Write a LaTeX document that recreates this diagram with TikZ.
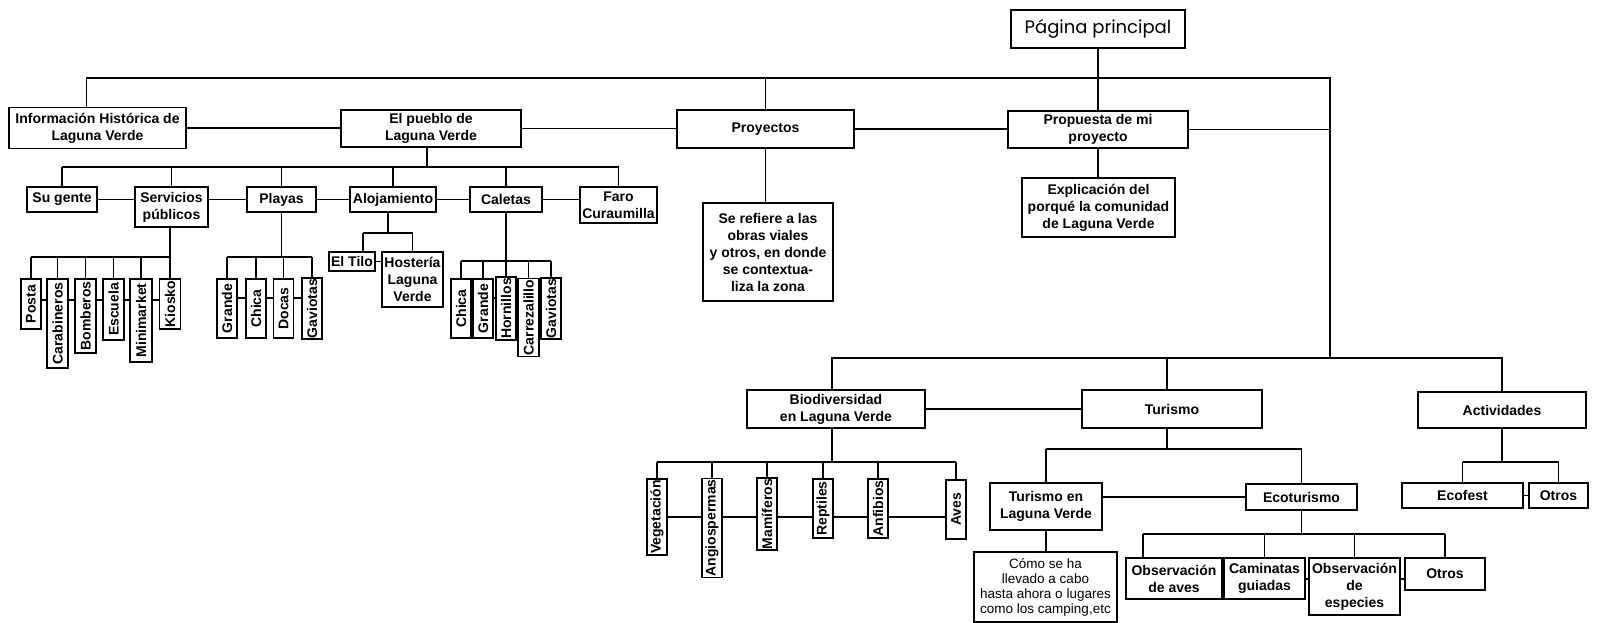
\documentclass[tikz,border=0pt]{standalone}
\usepackage{fontspec}
\setmainfont{Liberation Sans}
\newfontfamily\popfont{Poppins}
\begin{document}
\begin{tikzpicture}[x=1pt,y=-1pt,
  bx/.style={draw, line width=1.4pt, inner sep=1pt, align=center, font=\fontsize{14}{17}\selectfont\bfseries},
  vb/.style={bx, rotate=90, font=\fontsize{14}{15}\selectfont\bfseries},
  rg/.style={bx, font=\fontsize{13.5}{15}\selectfont},
  ln/.style={line width=1.4pt}]
\useasboundingbox (0,0) rectangle (1604,623);

% ---- top level
\node[bx, minimum width=174, minimum height=38, font=\popfont\fontsize{18}{20}\selectfont] (pag) at (1098,29) {Página principal};
\node[bx, minimum width=177, minimum height=41] (info) at (97.5,128) {Información Histórica de\\Laguna Verde};
\node[bx, minimum width=180, minimum height=37] (pueblo) at (431,128.5) {El pueblo de\\Laguna Verde};
\node[bx, minimum width=177, minimum height=38] (proy) at (765.5,129) {Proyectos};
\node[bx, minimum width=180, minimum height=37] (prop) at (1098,129.5) {Propuesta de mi\\proyecto};
\node[bx, minimum width=130, minimum height=98] (seref) at (768,252) {Se refiere a las\\obras viales\\y otros, en donde\\se contextua-\\liza la zona};
\node[bx, minimum width=153, minimum height=59] (expl) at (1098.5,207.5) {Explicación del\\porqué la comunidad\\de Laguna Verde};

% ---- pueblo children
\node[bx, minimum width=70, minimum height=25] (sugente) at (62,199.5) {Su gente};
\node[bx, minimum width=73, minimum height=40] (serv) at (171.5,207) {Servicios\\públicos};
\node[bx, minimum width=69, minimum height=25] (playas) at (281.5,199.5) {Playas};
\node[bx, minimum width=86, minimum height=25] (aloj) at (393,199.5) {Alojamiento};
\node[bx, minimum width=72, minimum height=25] (caletas) at (506,199.5) {Caletas};
\node[bx, minimum width=77, minimum height=36] (faro) at (618.5,205) {Faro\\Curaumilla};

% servicios children
\node[vb, minimum width=50, minimum height=20] (posta) at (31,304) {Posta};
\node[vb, minimum width=89, minimum height=21] (carab) at (57.5,323.5) {Carabineros};
\node[vb, minimum width=74, minimum height=21] (bomb) at (85.5,316) {Bomberos};
\node[vb, minimum width=61, minimum height=21] (escuela) at (113.5,309.5) {Escuela};
\node[vb, minimum width=83, minimum height=22] (minim) at (141,320.5) {Minimarket};
\node[vb, minimum width=50, minimum height=21] (kiosko) at (170,304) {Kiosko};

% playas children
\node[vb, minimum width=59, minimum height=20] (pgrande) at (227,308.5) {Grande};
\node[vb, minimum width=59, minimum height=20] (pchica) at (256,308.5) {Chica};
\node[vb, minimum width=59, minimum height=20] (pdocas) at (283.5,308.5) {Docas};
\node[vb, minimum width=59, minimum height=20] (pgav) at (312,308.5) {Gaviotas};

% alojamiento children
\node[bx, minimum width=46, minimum height=19] (tilo) at (352,261.5) {El Tilo};
\node[bx, minimum width=61, minimum height=55] (host) at (412.5,279.5) {Hostería\\Laguna\\Verde};

% caletas children
\node[vb, minimum width=59, minimum height=20] (cchica) at (461,308.5) {Chica};
\node[vb, minimum width=59, minimum height=20] (cgrande) at (483,308.5) {Grande};
\node[vb, minimum width=59, minimum height=20] (chorn) at (506,308.5) {Hornillos};
\node[vb, minimum width=77, minimum height=21] (ccarr) at (528.5,317.5) {Carrezalillo};
\node[vb, minimum width=59, minimum height=20] (cgav) at (551,308.5) {Gaviotas};

% ---- lower part
\node[bx, minimum width=178, minimum height=38] (biod) at (836,409) {Biodiversidad\\en Laguna Verde};
\node[bx, minimum width=180, minimum height=38] (turismo) at (1172,409) {Turismo};
\node[bx, minimum width=168, minimum height=36] (activ) at (1502,410) {Actividades};

\node[vb, minimum width=76, minimum height=20] (veg) at (657,517) {Vegetación};
\node[vb, minimum width=98, minimum height=20] (angio) at (712,528) {Angiospermas};
\node[vb, minimum width=70, minimum height=20] (mam) at (767,514) {Mamíferos};
\node[vb, minimum width=59, minimum height=20] (rept) at (823,508.5) {Reptiles};
\node[vb, minimum width=59, minimum height=20] (anf) at (878,508.5) {Anfibios};
\node[vb, minimum width=59, minimum height=20] (aves) at (956,509.5) {Aves};

\node[bx, minimum width=112, minimum height=47] (tlv) at (1046,506.5) {Turismo en\\Laguna Verde};
\node[bx, minimum width=111, minimum height=26] (eco) at (1301.5,497) {Ecoturismo};
\node[rg, minimum width=143, minimum height=70] (como) at (1045.5,587) {Cómo se ha\\llevado a cabo\\hasta ahora o lugares\\como los camping,etc};
\node[bx, minimum width=96, minimum height=41] (obsaves) at (1174,578.5) {Observación\\de aves};
\node[bx, minimum width=81, minimum height=41] (camin) at (1264.5,578.5) {Caminatas\\guiadas};
\node[bx, minimum width=91, minimum height=57] (obsesp) at (1354.5,586.5) {Observación\\de\\especies};
\node[bx, minimum width=80, minimum height=32] (otros2) at (1445,574) {Otros};
\node[bx, minimum width=121, minimum height=25] (ecofest) at (1462.5,495.5) {Ecofest};
\node[bx, minimum width=59, minimum height=25] (otros1) at (1558.5,495.5) {Otros};

% ---- helper coordinates
\coordinate (rvT) at (1330,78);
\coordinate (rvB) at (1330,358);
\coordinate (pb1) at (0,167);
\coordinate (sb) at (0,257);
\coordinate (sch) at (0,300);
\coordinate (plb) at (0,257);
\coordinate (plch) at (0,298);
\coordinate (ab) at (0,233);
\coordinate (cb) at (0,261);
\coordinate (cch) at (0,298);
\coordinate (bb) at (0,462);
\coordinate (bch) at (0,517);
\coordinate (tb) at (0,449);
\coordinate (eb) at (0,534);
\coordinate (ech) at (0,579);
\coordinate (acb) at (0,462);

% ---- connectors top
\draw[ln] ([xshift=-11pt]info.north) |- (rvT) -- (rvB);
\draw[ln] (proy.north) -- (proy.north |- rvT);
\draw[ln] (pag.south) -- (prop.north);
\draw[ln] (info.east) -- (info.east -| pueblo.west);
\draw[ln] (pueblo.east) -- (pueblo.east -| proy.west);
\draw[ln] (proy.east) -- (proy.east -| prop.west);
\draw[ln] (prop.east) -- (prop.east -| rvT);
\draw[ln] (proy.south) -- (proy.south |- seref.north);
\draw[ln] (prop.south) -- (prop.south |- expl.north);

% pueblo
\draw[ln] ([xshift=-4pt]pueblo.south) -- ([xshift=-4pt]pueblo.south |- pb1);
\draw[ln] (sugente.north |- pb1) -- (faro.north |- pb1);
\foreach \n in {sugente,serv,playas,aloj,caletas,faro} \draw[ln] (\n.north) -- (\n.north |- pb1);
\draw[ln] (sugente.east) -- (sugente.east -| serv.west);
\draw[ln] (sugente.east -| serv.east) -- (playas.west);
\draw[ln] (playas.east) -- (aloj.west);
\draw[ln] (aloj.east) -- (caletas.west);
\draw[ln] (caletas.east) -- (caletas.east -| faro.west);

% servicios
\draw[ln] (serv.south -| kiosko.east) -- (kiosko.east);
\draw[ln] (posta.east |- sb) -- (kiosko.east |- sb);
\foreach \n in {posta,carab,bomb,escuela,minim} \draw[ln] (\n.east) -- (\n.east |- sb);
\foreach \a/\b in {posta/carab,carab/bomb,bomb/escuela,escuela/minim,minim/kiosko} \draw[ln] (\a.south |- sch) -- (\b.north |- sch);

% playas
\draw[ln] (playas.south) -- (playas.south |- plb);
\draw[ln] (pgrande.east |- plb) -- (pgav.east |- plb);
\foreach \n in {pgrande,pchica,pdocas,pgav} \draw[ln] (\n.east) -- (\n.east |- plb);
\foreach \a/\b in {pgrande/pchica,pchica/pdocas,pdocas/pgav} \draw[ln] (\a.south |- plch) -- (\b.north |- plch);

% alojamiento
\draw[ln] ([xshift=-5pt]aloj.south) -- ([xshift=-5pt]aloj.south |- ab);
\draw[ln] ([xshift=11pt]tilo.north |- ab) -- (host.north |- ab);
\draw[ln] ([xshift=11pt]tilo.north) -- ([xshift=11pt]tilo.north |- ab);
\draw[ln] (host.north) -- (host.north |- ab);
\draw[ln] (tilo.east) -- (tilo.east -| host.west);

% caletas
\draw[ln] (caletas.south) -- (caletas.south |- cb);
\draw[ln] (cchica.east |- cb) -- (cgav.east |- cb);
\foreach \n in {cchica,cgrande,chorn,ccarr,cgav} \draw[ln] (\n.east) -- (\n.east |- cb);
\foreach \a/\b in {cchica/cgrande,cgrande/chorn,chorn/ccarr,ccarr/cgav} \draw[ln] (\a.south |- cch) -- (\b.north |- cch);

% lower bar
\draw[ln] ([xshift=-4pt]biod.north) |- (rvB);
\draw[ln] (rvB) -- (rvB -| activ.north) -- (activ.north);
\draw[ln] ([xshift=-5pt]turismo.north) -- ([xshift=-5pt]turismo.north |- rvB);
\draw[ln] (biod.east) -- (turismo.west);

% biodiversidad
\draw[ln] ([xshift=-4pt]biod.south) -- ([xshift=-4pt]biod.south |- bb);
\draw[ln] (veg.east |- bb) -- (aves.east |- bb);
\foreach \n in {veg,angio,mam,rept,anf,aves} \draw[ln] (\n.east) -- (\n.east |- bb);
\foreach \a/\b in {veg/angio,angio/mam,mam/rept,rept/anf,anf/aves} \draw[ln] (\a.south |- bch) -- (\b.north |- bch);

% turismo
\draw[ln] ([xshift=-5pt]turismo.south) -- ([xshift=-5pt]turismo.south |- tb);
\draw[ln] (tlv.north |- tb) -- (eco.north |- tb);
\draw[ln] (tlv.north) -- (tlv.north |- tb);
\draw[ln] (eco.north) -- (eco.north |- tb);
\draw[ln] (eco.west -| tlv.east) -- (eco.west);
\draw[ln] (tlv.south) -- (tlv.south |- como.north);

% ecoturismo
\draw[ln] (eco.south) -- (eco.south |- eb);
\draw[ln] ([xshift=-31pt]obsaves.north |- eb) -- (otros2.north |- eb);
\draw[ln] ([xshift=-31pt]obsaves.north) -- ([xshift=-31pt]obsaves.north |- eb);
\foreach \n in {camin,obsesp,otros2} \draw[ln] (\n.north) -- (\n.north |- eb);
\foreach \a/\b in {obsaves/camin,camin/obsesp,obsesp/otros2} \draw[ln] (\a.east |- ech) -- (\b.west |- ech);

% actividades
\draw[ln] (activ.south) -- (activ.south |- acb);
\draw[ln] (ecofest.north |- acb) -- (otros1.north |- acb);
\draw[ln] (ecofest.north) -- (ecofest.north |- acb);
\draw[ln] (otros1.north) -- (otros1.north |- acb);
\draw[ln] (ecofest.east) -- (otros1.west);
\end{tikzpicture}
\end{document}
